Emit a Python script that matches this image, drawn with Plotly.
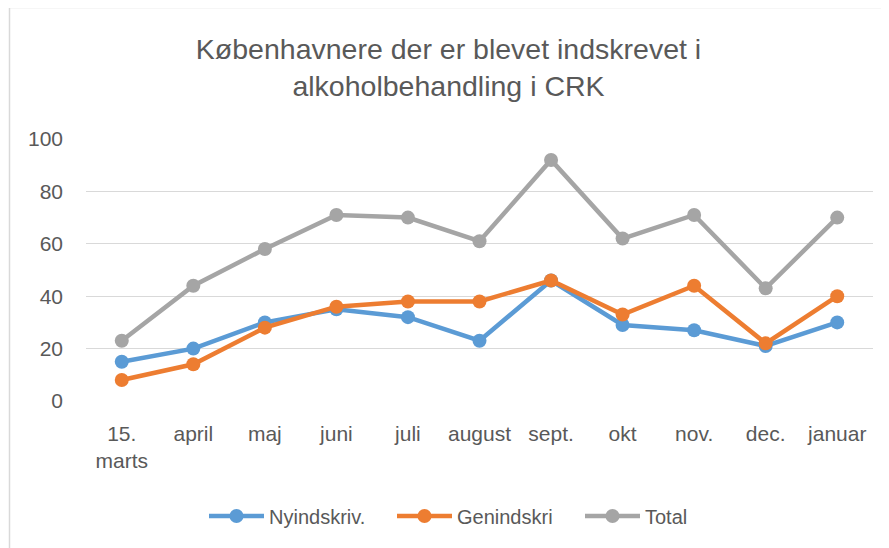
import plotly.graph_objects as go

categories = ["15.<br>marts", "april", "maj", "juni", "juli", "august", "sept.", "okt", "nov.", "dec.", "januar"]
nyindskriv = [15, 20, 30, 35, 32, 23, 46, 29, 27, 21, 30]
genindskri = [8, 14, 28, 36, 38, 38, 46, 33, 44, 22, 40]
total = [23, 44, 58, 71, 70, 61, 92, 62, 71, 43, 70]
y_ticks = [0, 20, 40, 60, 80, 100]

FONT = "Liberation Sans, Arial, sans-serif"
TXT = "#595959"

fig = go.Figure()
series = [("Nyindskriv.", nyindskriv, "#5B9BD5"),
          ("Genindskri", genindskri, "#ED7D31"),
          ("Total", total, "#A5A5A5")]
for name, vals, col in series:
    fig.add_trace(go.Scatter(
        x=categories, y=vals, name=name, mode="lines+markers",
        line=dict(color=col, width=4.5),
        marker=dict(color=col, size=14),
    ))

OFF = 8  # page body offset
W, H = 889 - OFF, 548 - OFF
L, R, T, B = 86 - OFF, 16, 139 - OFF, 548 - 401
pw, ph = W - L - R, H - T - B

def py(p):  # screen y pixel -> paper y
    return (H - B - (p - OFF)) / ph

def px(p):  # screen x pixel -> paper x
    return (p - OFF - L) / pw

fig.update_layout(
    width=W, height=H,
    margin=dict(l=L, r=R, t=T, b=B),
    paper_bgcolor="white", plot_bgcolor="white",
    font=dict(family=FONT, color=TXT, size=20),
    title=dict(text="Københavnere der er blevet indskrevet i<br>alkoholbehandling i CRK",
               x=0.5, xanchor="center", y=1 - (59 - OFF) / H, yanchor="middle",
               font=dict(size=28.5, color=TXT, family=FONT)),
    showlegend=True,
    legend=dict(orientation="h", x=px(204), xanchor="left",
                y=py(516), yanchor="middle",
                font=dict(size=20, color=TXT), itemwidth=55,
                entrywidth=118, entrywidthmode="pixels",
                traceorder="normal"),
    xaxis=dict(type="category", range=[-0.5, len(categories) - 0.5],
               showgrid=False, showline=False, zeroline=False,
               ticks="", ticklabelstandoff=18, tickfont=dict(size=21, color=TXT)),
    yaxis=dict(range=[0, 100], tickvals=y_ticks, showgrid=True,
               gridcolor="#D9D9D9", gridwidth=1, zeroline=False,
               showline=False, ticks="", ticklabelstandoff=22,
               tickfont=dict(size=21, color=TXT)),
    shapes=[
        dict(type="line", xref="paper", yref="paper",
             x0=px(9.5), x1=px(900),
             y0=py(7.5), y1=py(7.5),
             line=dict(color="#D9D9D9", width=1.5)),
        dict(type="line", xref="paper", yref="paper",
             x0=px(9.5), x1=px(9.5),
             y0=py(7.5), y1=py(560),
             line=dict(color="#D9D9D9", width=1.5)),
    ],
)

fig.write_html("out.html")
